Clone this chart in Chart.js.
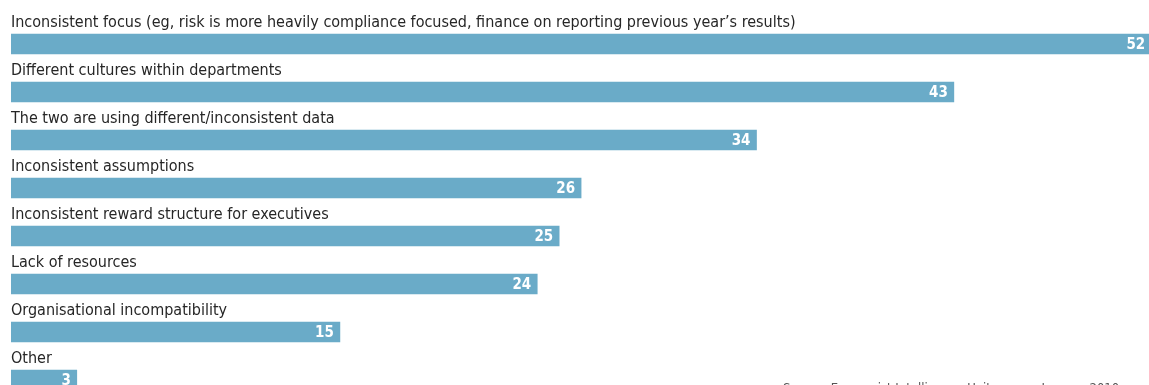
<!DOCTYPE html>
<html>
<head>
<meta charset="utf-8">
<script src="https://cdn.jsdelivr.net/npm/chart.js@4"></script>
<style>
  html, body { margin: 0; padding: 0; background: #ffffff; overflow: hidden; }
  #wrap { position: relative; width: 1149px; height: 420px; }
</style>
</head>
<body>
<div id="wrap"><canvas id="c"></canvas></div>
<script>
// Survey answers (% of respondents)
const categories = [
  "Inconsistent focus (eg, risk is more heavily compliance focused, finance on reporting previous year\u2019s results)",
  "Different cultures within departments",
  "The two are using different/inconsistent data",
  "Inconsistent assumptions",
  "Inconsistent reward structure for executives",
  "Lack of resources",
  "Organisational incompatibility",
  "Other"
];
const values = [52, 43, 34, 26, 25, 24, 15, 3];
const sourceNote = "Source: Economist Intelligence Unit survey, January 2010";

const BAR_COLOR = "#6aabc8";
const TEXT_COLOR = "#262626";
const LABEL_FONT = "16px 'DejaVu Sans Condensed', 'Liberation Sans Narrow', sans-serif";
const VALUE_FONT = "bold 15px 'DejaVu Sans Condensed', 'Liberation Sans Narrow', sans-serif";

// Category text above each bar, value in white at the bar's end
const barLabels = {
  id: "barLabels",
  afterDatasetsDraw(chart) {
    const ctx = chart.ctx;
    const meta = chart.getDatasetMeta(0);
    const area = chart.chartArea;
    ctx.save();
    meta.data.forEach((bar, i) => {
      ctx.font = LABEL_FONT;
      ctx.fillStyle = TEXT_COLOR;
      ctx.textAlign = "left";
      ctx.textBaseline = "alphabetic";
      ctx.fillText(categories[i], area.left, bar.y - 17);

      ctx.font = VALUE_FONT;
      ctx.fillStyle = "#ffffff";
      ctx.textAlign = "right";
      ctx.textBaseline = "middle";
      ctx.fillText(String(values[i]), bar.x - 6, bar.y + 1);
    });
    ctx.font = "13px 'DejaVu Sans Condensed', 'Liberation Sans Narrow', sans-serif";
    ctx.fillStyle = "#555555";
    ctx.textAlign = "left";
    ctx.textBaseline = "top";
    ctx.fillText(sourceNote, 783, 382);
    ctx.restore();
  }
};

new Chart(document.getElementById("c"), {
  type: "bar",
  data: {
    labels: categories,
    datasets: [{
      data: values,
      backgroundColor: BAR_COLOR,
      borderWidth: 0,
      barThickness: 20
    }]
  },
  options: {
    indexAxis: "y",
    responsive: true,
    maintainAspectRatio: false,
    animation: false,
    layout: { padding: { left: 11, right: 0, top: 20, bottom: 16 } },
    scales: {
      x: { display: false, min: 0, max: 51.9 },
      y: { display: false }
    },
    plugins: {
      legend: { display: false },
      tooltip: { enabled: false }
    }
  },
  plugins: [barLabels]
});
</script>
</body>
</html>
